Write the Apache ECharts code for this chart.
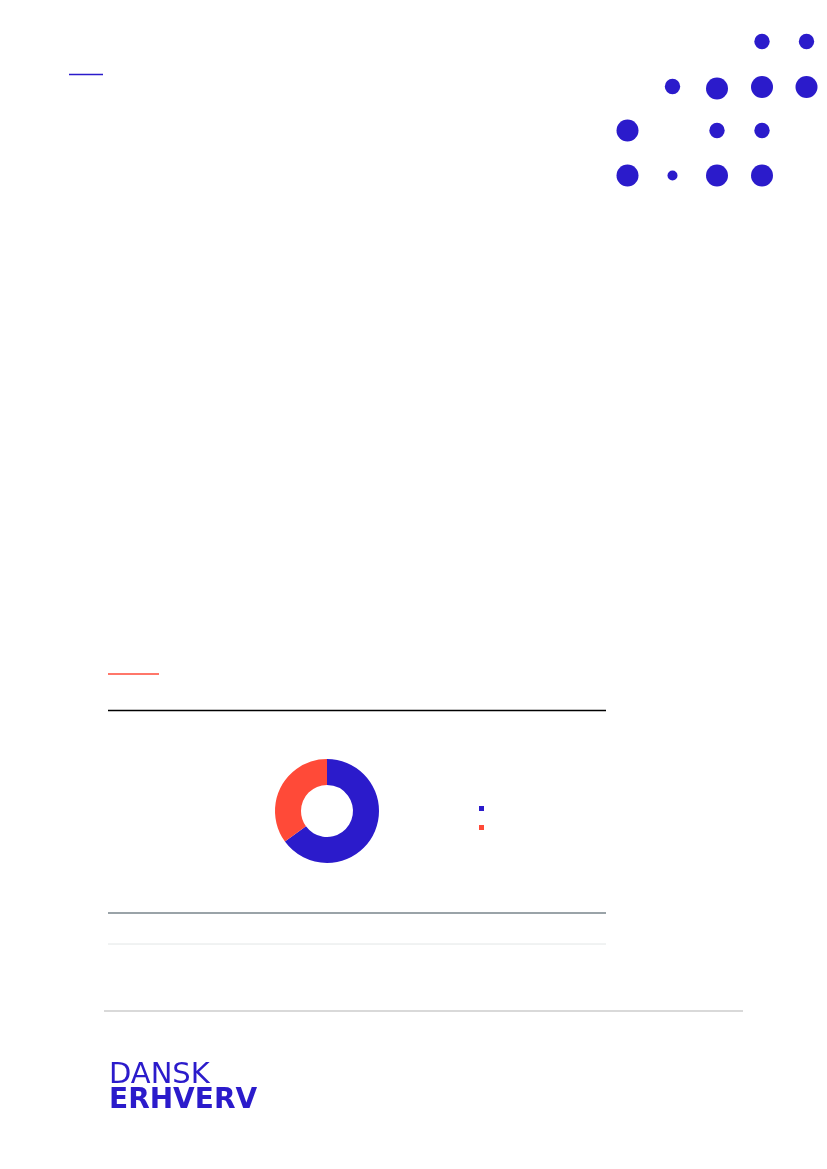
<!DOCTYPE html>
<html>
<head>
<meta charset="utf-8">
<script src="https://cdn.jsdelivr.net/npm/echarts@6/dist/echarts.min.js"></script>
<style>
html,body{margin:0;padding:0;background:#fff;}
#chart{width:827px;height:1169px;}
</style>
</head>
<body>
<div id="chart"></div>
<script>
// Data
var categories = ['Andel 1', 'Andel 2'];
var values = [65, 35];
var colors = ['#2b1bcb', '#ff4a38'];

var chart = echarts.init(document.getElementById('chart'), null, {renderer: 'canvas'});

function line(x1, y1, x2, y2, color, w) {
  return {type: 'line', shape: {x1: x1, y1: y1, x2: x2, y2: y2}, style: {stroke: color, lineWidth: w}, silent: true};
}
function dot(cx, cy, r) {
  return {type: 'circle', shape: {cx: cx, cy: cy, r: r}, style: {fill: '#2b1bcb'}, silent: true};
}

var graphics = [
  line(69, 74.5, 103, 74.5, '#2b1bcb', 1.3),
  line(108, 674, 159, 674, '#ff4a38', 1.5),
  line(108, 710.5, 606, 710.5, '#000000', 1.3),
  line(108, 913, 606, 913, '#9aa3a8', 2),
  line(108, 944, 606, 944, '#e2e6e6', 1),
  line(104, 1011, 743, 1011, '#cccccc', 1.6),
  // decorative dots
  dot(762, 41.5, 7.7), dot(806.5, 41.5, 7.7),
  dot(672.5, 86.5, 7.7), dot(717, 88.5, 11), dot(762, 87, 11), dot(806.5, 87, 11),
  dot(627.5, 130.5, 11), dot(717, 130.5, 7.7), dot(762, 130.5, 7.7),
  dot(627.5, 175.5, 11), dot(672.5, 175.5, 5), dot(717, 175.5, 11), dot(762, 175.5, 11),
  {type: 'text', style: {x: 109, y: 1075, text: 'DANSK', fill: '#2b1bcb', verticalAlign: 'middle', font: 'normal 29px "DejaVu Sans", sans-serif'}},
  {type: 'text', style: {x: 109, y: 1101, text: 'ERHVERV', fill: '#2b1bcb', verticalAlign: 'middle', font: 'bold 28px "DejaVu Sans", sans-serif'}}
];

var option = {
  animation: false,
  backgroundColor: '#ffffff',
  color: colors,
  legend: {
    orient: 'vertical',
    left: 474,
    top: 801,
    itemWidth: 5,
    itemHeight: 5,
    itemGap: 14,
    icon: 'rect',
    data: categories,
    formatter: function () { return ''; },
    textStyle: {fontSize: 10, color: '#333'}
  },
  graphic: graphics,
  series: [{
    type: 'pie',
    center: [327, 811],
    radius: [26, 52],
    startAngle: 90,
    clockwise: true,
    label: {show: false},
    labelLine: {show: false},
    emphasis: {disabled: true},
    data: categories.map(function (c, i) { return {name: c, value: values[i]}; })
  }]
};
chart.setOption(option);
</script>
</body>
</html>
